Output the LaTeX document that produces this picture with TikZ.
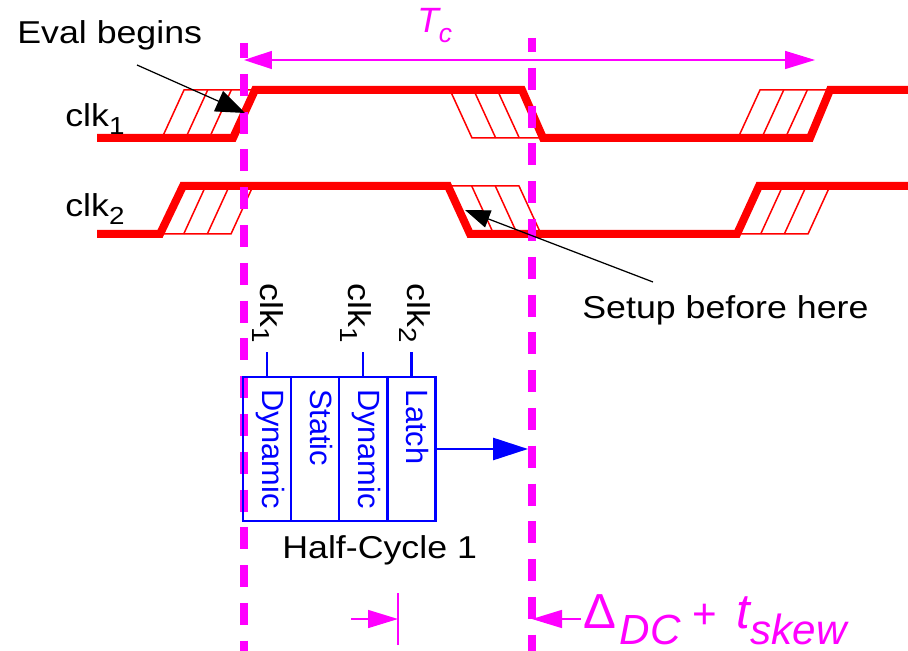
\documentclass[tikz,border=0pt]{standalone}
\usepackage{fontspec}
\setmainfont{Liberation Sans}
\newfontfamily\notefont[FakeStretch=1.13]{Liberation Sans}
\usetikzlibrary{arrows.meta}
\definecolor{mag}{RGB}{255,0,255}
\tikzstyle{wave}=[red,line width=0.16cm]
\tikzstyle{hatch}=[red,line width=0.03cm]
\tikzstyle{edgeline}=[mag,line width=0.16cm,dash pattern=on 0.44cm off 0.316cm]
\tikzstyle{dimline}=[mag,line width=0.03cm]
\tikzstyle{tag}=[font=\notefont\fontsize{18}{20}\selectfont,inner sep=0pt]
\tikzstyle{vtag}=[tag,rotate=-90,inner sep=0.18cm,anchor=base east]
\tikzstyle{stage}=[draw=blue,line width=0.055cm,rotate=-90,minimum width=2.88cm,minimum height=0.96cm,text width=2.4cm,text height=0.2cm,text depth=0cm,inner sep=0pt,align=left,text=blue,font=\fontsize{17.5}{19}\selectfont]
\tikzstyle{pointer}=[line width=0.025cm,-{Triangle[length=0.58cm,width=0.44cm]}]
\newcommand{\lowsub}[1]{\raisebox{-4pt}{\fontsize{14}{16}\selectfont #1}}
% hatched transition band, #1 = left x at the start level
\newcommand{\riseband}[3]{%
  \draw[hatch] (#1,#2) -- ({#1+22},#3) -- ({#1+93},#3) -- ({#1+71},#2) -- cycle;
  \foreach \dx in {23.7,47.3} \draw[hatch] ({#1+\dx},#2) -- ({#1+\dx+22},#3);}
\newcommand{\fallband}[3]{%
  \draw[hatch] (#1,#3) -- ({#1+22},#2) -- ({#1+93},#2) -- ({#1+71},#3) -- cycle;
  \foreach \dx in {23.7,47.3} \draw[hatch] ({#1+\dx},#3) -- ({#1+\dx+22},#2);}
\begin{document}
\begin{tikzpicture}[x=0.02cm,y=-0.02cm]
\useasboundingbox (0,0) rectangle (908,651);
% clocks
\riseband{162}{138}{90}
\fallband{450}{138}{90}
\riseband{738}{138}{90}
\draw[wave] (97,138) -- (233,138) -- (255,90) -- (522,90) -- (543,138) -- (810,138) -- (830,90) -- (908,90);
\riseband{160}{234}{186}
\fallband{448}{234}{186}
\riseband{737}{234}{186}
\draw[wave] (97,234) -- (160,234) -- (183,186) -- (448,186) -- (470,234) -- (737,234) -- (759,186) -- (908,186);
\node[tag,anchor=base west] (clkA) at (65,127) {clk\lowsub{1}};
\node[tag,anchor=base west] (clkB) at (65,217) {clk\lowsub{2}};
% edges
\coordinate (edgeAtop) at (244,43);
\coordinate (edgeAbot) at (244,651);
\coordinate (edgeBtop) at (532,38);
\coordinate (edgeBbot) at (532,651);
\draw[edgeline,dash phase=0.14cm] (edgeAtop) -- (edgeAbot);
\draw[edgeline,dash phase=0.16cm] (edgeBtop) -- (edgeBbot);
% cycle time
\coordinate (tcL) at (244,60);
\coordinate (tcR) at (815,60);
\draw[dimline,{Triangle[length=0.56cm,width=0.36cm]}-{Triangle[length=0.6cm,width=0.36cm]}] (tcL) -- (tcR);
\node[anchor=base west,inner sep=0pt,text=mag,font=\fontsize{20}{22}\selectfont\itshape] (tc) at (417,33) {T\raisebox{-5.5pt}{\fontsize{15}{17}\selectfont c}};
% stages
\node[stage] (dynA) at (267,449) {Dynamic};
\node[stage] (stat) at (315,449) {Static};
\node[stage] (dynB) at (363,449) {Dynamic};
\node[stage] (latch) at (411.5,449) {Latch};
\node[vtag] (vA) at (260,352) {clk\lowsub{1}};
\node[vtag] (vB) at (348,352) {clk\lowsub{1}};
\node[vtag] (vC) at (407,352) {clk\lowsub{2}};
\draw[blue,line width=0.055cm] (dynA.west) -- (dynA.west |- vA.base east);
\draw[blue,line width=0.055cm] (dynB.west) -- (dynB.west |- vB.base east);
\draw[blue,line width=0.055cm] (latch.west) -- (latch.west |- vC.base east);
\coordinate (out) at (528,449);
\draw[blue,line width=0.055cm,-{Triangle[length=0.7cm,width=0.44cm]}] (latch.north) -- (out);
\node[tag,anchor=base west] (half) at (282,558) {Half-Cycle 1};
% notes
\node[tag,anchor=base west] (eval) at (17,44) {Eval begins};
\coordinate (evalfrom) at (137,65);
\coordinate (evalto) at (245,113);
\draw[pointer] (evalfrom) -- (evalto);
\node[tag,anchor=base west] (setup) at (582,318) {Setup before here};
\coordinate (setupfrom) at (653,282);
\coordinate (setupto) at (465,210);
\draw[pointer,-{Triangle[length=0.5cm,width=0.36cm]}] (setupfrom) -- (setupto);
% skew margin
\coordinate (barT) at (398,593);
\coordinate (barB) at (398,645);
\draw[dimline] (barT) -- (barB);
\coordinate (gapL) at (351,619);
\coordinate (gapR) at (581,619);
\coordinate (gapRtip) at (532,619);
\draw[dimline,-{Triangle[length=0.6cm,width=0.36cm]}] (gapL) -- (barT |- gapL);
\draw[dimline,-{Triangle[length=0.6cm,width=0.36cm]}] (gapR) -- (gapRtip);
\node[anchor=base west,inner sep=0pt,text=mag] (delta) at (583,628) {\fontsize{28}{30}\selectfont Δ\kern2pt\raisebox{-9.5pt}{\fontsize{24}{28}\selectfont\itshape DC}\kern7pt{\fontsize{24}{28}\selectfont +}\kern11pt{\itshape t}\raisebox{-9.5pt}{\fontsize{24}{28}\selectfont\itshape skew}};
\end{tikzpicture}
\end{document}
